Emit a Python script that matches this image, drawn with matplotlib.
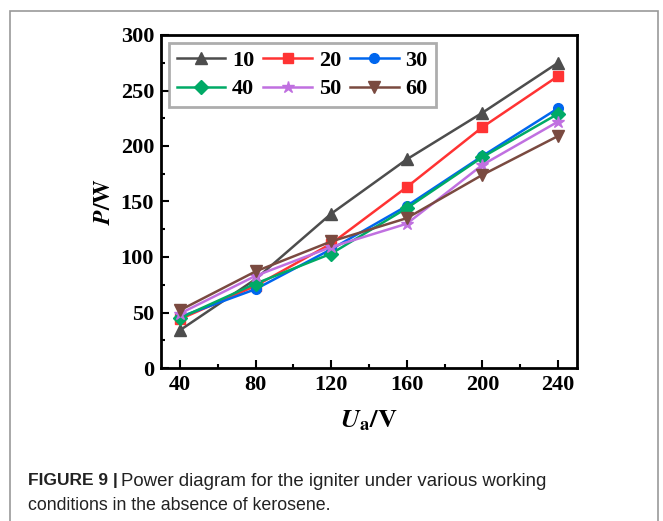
import numpy as np
import matplotlib.pyplot as plt
import matplotlib.ticker as ticker
from matplotlib.patches import Rectangle

voltage = [40, 80, 120, 160, 200, 240]
labels = ["10", "20", "30", "40", "50", "60"]
p10 = [34, 80, 139, 188, 230, 275]
p20 = [44, 74, 112, 163, 217, 263]
p30 = [46, 71, 107, 146, 191, 234]
p40 = [45, 76, 103, 144, 190, 229]
p50 = [49, 83, 109, 130, 183, 222]
p60 = [52, 87, 114, 135, 174, 209]

series = [p10, p20, p30, p40, p50, p60]
colors = ["#4d4d4d", "#ff3333", "#0066ee", "#00aa66", "#c070e0", "#7a4a40"]
markers = ["^", "s", "o", "D", "*", "v"]
msizes = [8, 7, 7, 7, 9, 9]

def main():
    plt.rcParams['font.family'] = ['Liberation Serif', 'DejaVu Serif']
    plt.rcParams['mathtext.fontset'] = 'stix'

    fig = plt.figure(figsize=(6.63, 5.21), dpi=100)
    ax = fig.add_axes([161 / 663, 1 - 368 / 521, 416 / 663, 333 / 521])

    # outer frame around figure + caption
    fig.patches.append(Rectangle((10 / 663, -0.1), 648 / 663, 1.1 - 11 / 521,
                                 transform=fig.transFigure, fill=False,
                                 edgecolor="#999999", linewidth=1.2))

    handles = []
    for vals, lab, c, m, ms in zip(series, labels, colors, markers, msizes):
        h, = ax.plot(voltage, vals, '-', marker=m, markersize=ms, color=c,
                     linewidth=1.8, label=lab)
        handles.append(h)

    ax.set_xlim(30, 250)
    ax.set_ylim(0, 300)
    ax.xaxis.set_major_locator(ticker.FixedLocator(voltage))
    ax.xaxis.set_minor_locator(ticker.FixedLocator([60, 100, 140, 180, 220]))
    ax.yaxis.set_major_locator(ticker.MultipleLocator(50))
    ax.yaxis.set_minor_locator(ticker.MultipleLocator(25))
    ax.tick_params(which='both', direction='in', top=False, right=False,
                   width=1.5, labelsize=16)
    ax.tick_params(which='major', length=6, pad=5)
    ax.tick_params(which='minor', length=3)
    for lbl in ax.get_xticklabels() + ax.get_yticklabels():
        lbl.set_fontweight('bold')
    for sp in ax.spines.values():
        sp.set_linewidth(2)

    ax.set_xlabel(r"$\boldsymbol{U}_\mathbf{a}\mathbf{/V}$", fontsize=19, labelpad=10)
    ax.set_ylabel(r"$\boldsymbol{P}\mathbf{/W}$", fontsize=17, labelpad=4)

    # row-major order for a 3-column legend
    order = [0, 3, 1, 4, 2, 5]
    leg = ax.legend([handles[i] for i in order], [labels[i] for i in order],
                    loc='upper left', ncol=3, frameon=True,
                    fancybox=False, edgecolor='#999999', handlelength=2.2,
                    columnspacing=0.4, handletextpad=0.3, borderpad=0.35,
                    labelspacing=0.35, borderaxespad=0.35,
                    prop={'weight': 'bold', 'size': 16})
    leg.get_frame().set_linewidth(2)

    fig.text(28 / 663, 1 - 481 / 521, "FIGURE 9 |", fontsize=12.5,
             fontweight='bold', family='Liberation Sans', color='#222222',
             va='center')
    fig.text(121 / 663, 1 - 481 / 521,
             "Power diagram for the igniter under various working",
             fontsize=13.4, family='Liberation Sans', color='#222222', va='center')
    fig.text(28 / 663, 1 - 505 / 521,
             "conditions in the absence of kerosene.",
             fontsize=12.8, family='Liberation Sans', color='#222222', va='center')

    fig.savefig("out.png", dpi=100)

if __name__ == "__main__":
    main()
